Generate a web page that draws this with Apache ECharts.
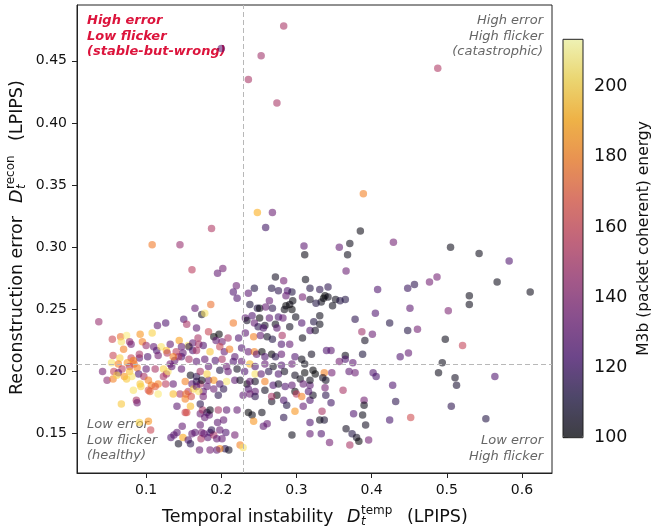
<!DOCTYPE html>
<html><head><meta charset="utf-8">
<script src="https://cdn.jsdelivr.net/npm/echarts@6/dist/echarts.min.js"></script>
<style>html,body{margin:0;padding:0;background:#fff}#c{width:652px;height:529px}</style>
</head><body><div id="c"></div>
<script>
// ---- tick values & ranges ----
const xTicks = [0.1, 0.2, 0.3, 0.4, 0.5, 0.6];
const yTicks = [0.15, 0.20, 0.25, 0.30, 0.35, 0.40, 0.45];
const cbTicks = [100, 120, 140, 160, 180, 200];
const xRange = [0.008, 0.640];
const yRange = [0.1184, 0.4949];
const energyRange = [100, 213.5];
const splitX = 0.229;
const splitY = 0.2056;

// ---- data: [D_temp, D_recon, M3b energy] ----
const highPts = [[0.200,0.460,128],[0.283,0.478,150],[0.253,0.454,148],[0.236,0.435,150],[0.274,0.416,150],[0.488,0.444,152],[0.248,0.328,192],[0.268,0.328,132],[0.259,0.316,120],[0.187,0.315,152],[0.108,0.302,178],[0.145,0.302,145],[0.310,0.301,128],[0.311,0.294,102],[0.389,0.343,180],[0.385,0.313,102],[0.357,0.300,130],[0.371,0.303,103],[0.368,0.294,103],[0.429,0.304,135],[0.505,0.300,103],[0.543,0.295,103],[0.583,0.289,125]];

const rightPts = [[0.366,0.281,132],[0.487,0.276,135],[0.477,0.272,135],[0.567,0.272,103],[0.611,0.264,103],[0.457,0.270,115],[0.448,0.267,118],[0.408,0.266,125],[0.530,0.261,103],[0.530,0.254,103],[0.451,0.251,128],[0.502,0.249,138],[0.405,0.247,125],[0.378,0.242,115],[0.424,0.239,112],[0.448,0.233,112],[0.461,0.234,135],[0.387,0.232,148],[0.401,0.230,132],[0.391,0.225,105],[0.498,0.226,103],[0.521,0.221,158],[0.388,0.214,110],[0.365,0.213,103],[0.438,0.212,125],[0.449,0.215,130],[0.346,0.217,128],[0.340,0.217,125],[0.357,0.208,135],[0.375,0.207,128],[0.494,0.207,103],[0.370,0.200,128],[0.378,0.199,132],[0.402,0.199,125],[0.406,0.196,122],[0.489,0.199,103],[0.511,0.195,105],[0.513,0.189,108],[0.564,0.196,125],[0.337,0.199,180],[0.347,0.199,135],[0.335,0.195,105],[0.339,0.193,105],[0.428,0.189,125],[0.362,0.185,150],[0.338,0.187,135],[0.339,0.181,115],[0.346,0.175,120],[0.390,0.177,135],[0.390,0.173,103],[0.432,0.176,115],[0.506,0.172,115],[0.376,0.166,125],[0.388,0.165,103],[0.452,0.163,162],[0.424,0.161,122],[0.552,0.162,112],[0.392,0.157,105],[0.366,0.154,105],[0.374,0.150,112],[0.380,0.147,105],[0.383,0.144,100],[0.396,0.145,135],[0.371,0.141,150],[0.344,0.143,135],[0.333,0.150,125],[0.331,0.161,103],[0.337,0.161,108],[0.334,0.168,150],[0.318,0.159,125],[0.318,0.150,130],[0.318,0.177,125],[0.322,0.181,105],[0.318,0.189,128],[0.320,0.214,105],[0.325,0.198,100],[0.365,0.210,125],[0.318,0.233,125],[0.325,0.233,105]];

const upperMidPts = [[0.331,0.266,115],[0.342,0.268,115],[0.318,0.267,112],[0.338,0.261,100],[0.336,0.259,100],[0.342,0.260,103],[0.333,0.256,103],[0.326,0.255,112],[0.348,0.253,103],[0.352,0.258,103],[0.358,0.257,112],[0.365,0.258,112],[0.318,0.258,105],[0.331,0.245,103],[0.323,0.240,112],[0.331,0.238,103],[0.202,0.283,135],[0.195,0.279,130],[0.272,0.276,105],[0.283,0.273,135],[0.312,0.274,103],[0.220,0.269,132],[0.244,0.267,112],[0.267,0.267,112],[0.276,0.265,115],[0.288,0.265,125],[0.294,0.264,112],[0.216,0.264,125],[0.236,0.263,128],[0.286,0.261,130],[0.221,0.259,125],[0.308,0.260,135],[0.264,0.257,130],[0.238,0.254,110],[0.295,0.257,102],[0.291,0.254,102],[0.286,0.253,100],[0.284,0.250,102],[0.248,0.251,112],[0.251,0.251,102],[0.259,0.252,130],[0.268,0.251,115],[0.294,0.250,100],[0.165,0.251,130],[0.174,0.246,105],[0.178,0.247,205],[0.186,0.254,175],[0.216,0.239,178],[0.232,0.243,128],[0.234,0.241,105],[0.241,0.245,125],[0.251,0.243,100],[0.264,0.243,128],[0.276,0.244,122],[0.282,0.243,130],[0.299,0.244,103],[0.307,0.239,125],[0.258,0.237,105],[0.272,0.238,103],[0.161,0.282,155],[0.150,0.242,125],[0.126,0.239,125],[0.115,0.237,128],[0.037,0.240,145],[0.154,0.238,150],[0.167,0.235,128]];

const leftPts = [[0.055,0.226,160],[0.066,0.228,175],[0.074,0.229,208],[0.067,0.224,205],[0.078,0.224,145],[0.080,0.222,135],[0.070,0.218,180],[0.092,0.230,185],[0.108,0.231,200],[0.095,0.224,180],[0.100,0.221,145],[0.110,0.220,130],[0.114,0.217,125],[0.120,0.220,205],[0.127,0.217,195],[0.132,0.222,130],[0.144,0.225,188],[0.140,0.216,155],[0.149,0.215,130],[0.156,0.221,205],[0.162,0.223,130],[0.162,0.217,125],[0.147,0.212,125],[0.056,0.213,160],[0.065,0.211,200],[0.054,0.207,205],[0.063,0.206,180],[0.080,0.211,160],[0.091,0.211,130],[0.091,0.214,150],[0.102,0.212,125],[0.083,0.209,180],[0.084,0.206,175],[0.075,0.207,185],[0.078,0.204,155],[0.068,0.202,155],[0.057,0.200,160],[0.063,0.199,130],[0.042,0.200,135],[0.048,0.193,142],[0.056,0.194,180],[0.061,0.197,200],[0.071,0.196,185],[0.074,0.194,198],[0.078,0.200,195],[0.088,0.203,180],[0.090,0.198,125],[0.100,0.202,130],[0.112,0.202,150],[0.123,0.202,200],[0.127,0.198,150],[0.123,0.196,150],[0.097,0.196,150],[0.103,0.193,180],[0.092,0.190,198],[0.107,0.189,180],[0.116,0.190,180],[0.129,0.200,205],[0.132,0.206,135],[0.138,0.209,130],[0.143,0.212,150],[0.116,0.213,135],[0.103,0.185,165],[0.105,0.184,172],[0.093,0.188,200],[0.083,0.185,205],[0.116,0.182,207],[0.112,0.188,170],[0.126,0.190,155],[0.087,0.177,150],[0.088,0.175,135],[0.067,0.174,198],[0.103,0.160,185],[0.106,0.153,160],[0.091,0.159,200],[0.081,0.196,205],[0.147,0.220,130],[0.157,0.220,115],[0.170,0.222,150],[0.128,0.215,155],[0.136,0.212,180],[0.157,0.210,150],[0.167,0.217,150],[0.134,0.204,128],[0.147,0.202,130],[0.159,0.197,103],[0.167,0.196,115],[0.152,0.192,180],[0.161,0.190,130],[0.172,0.190,150],[0.183,0.193,130],[0.136,0.190,130],[0.145,0.182,150],[0.156,0.184,155],[0.163,0.186,200],[0.176,0.184,130],[0.152,0.178,180],[0.136,0.182,195],[0.141,0.172,128],[0.152,0.167,160],[0.159,0.172,195]];

const lowerPts = [[0.133,0.147,125],[0.137,0.149,128],[0.141,0.151,128],[0.143,0.142,105],[0.148,0.156,130],[0.149,0.147,190],[0.156,0.145,125],[0.159,0.142,115],[0.161,0.150,130],[0.154,0.167,165],[0.153,0.182,175],[0.160,0.180,165],[0.172,0.157,130],[0.165,0.151,128],[0.174,0.151,135],[0.172,0.166,132],[0.175,0.169,150],[0.181,0.167,115],[0.184,0.165,130],[0.182,0.147,128],[0.173,0.146,150],[0.177,0.150,130],[0.185,0.137,135],[0.171,0.137,130],[0.185,0.151,125],[0.190,0.149,150],[0.198,0.153,130],[0.195,0.159,128],[0.201,0.146,130],[0.206,0.151,125],[0.205,0.138,115],[0.198,0.138,182],[0.210,0.137,105],[0.194,0.137,130],[0.225,0.141,180],[0.229,0.139,205],[0.218,0.149,135]];

const centerPts = [[0.244,0.239,130],[0.249,0.236,115],[0.256,0.235,125],[0.274,0.235,128],[0.281,0.229,150],[0.291,0.236,105],[0.183,0.232,160],[0.190,0.228,100],[0.197,0.230,100],[0.169,0.227,150],[0.193,0.225,130],[0.201,0.224,135],[0.209,0.227,150],[0.223,0.227,125],[0.232,0.231,128],[0.243,0.228,180],[0.252,0.229,130],[0.261,0.228,105],[0.268,0.226,112],[0.280,0.222,125],[0.291,0.222,130],[0.308,0.227,103],[0.176,0.221,125],[0.185,0.216,198],[0.198,0.220,160],[0.204,0.216,130],[0.211,0.218,180],[0.218,0.212,128],[0.227,0.219,125],[0.236,0.216,130],[0.244,0.216,180],[0.247,0.214,130],[0.254,0.216,100],[0.267,0.214,100],[0.272,0.212,115],[0.258,0.212,125],[0.280,0.214,130],[0.298,0.212,125],[0.307,0.210,103],[0.178,0.210,130],[0.192,0.209,125],[0.201,0.210,150],[0.167,0.208,128],[0.183,0.204,128],[0.207,0.204,132],[0.216,0.208,125],[0.227,0.208,130],[0.238,0.206,195],[0.245,0.204,125],[0.258,0.206,130],[0.269,0.204,103],[0.280,0.205,125],[0.294,0.206,130],[0.311,0.206,103],[0.322,0.201,100],[0.198,0.201,112],[0.209,0.200,130],[0.221,0.202,105],[0.231,0.200,125],[0.245,0.198,205],[0.253,0.198,128],[0.263,0.200,115],[0.276,0.198,125],[0.284,0.200,105],[0.298,0.197,105],[0.311,0.199,100],[0.172,0.200,150],[0.181,0.198,200],[0.207,0.192,207],[0.174,0.193,103],[0.167,0.192,115],[0.190,0.193,185],[0.198,0.190,125],[0.218,0.193,128],[0.225,0.193,105],[0.234,0.190,100],[0.238,0.192,130],[0.245,0.192,105],[0.258,0.192,180],[0.269,0.189,125],[0.276,0.190,105],[0.285,0.188,125],[0.294,0.189,128],[0.305,0.194,103],[0.309,0.190,130],[0.318,0.193,103],[0.167,0.188,128],[0.170,0.184,205],[0.181,0.188,130],[0.190,0.186,132],[0.203,0.186,115],[0.236,0.186,125],[0.245,0.184,128],[0.258,0.185,105],[0.298,0.184,100],[0.300,0.182,155],[0.307,0.180,180],[0.316,0.184,125],[0.176,0.180,135],[0.196,0.181,115],[0.229,0.181,128],[0.238,0.182,132],[0.245,0.180,115],[0.274,0.181,100],[0.283,0.177,125],[0.287,0.173,112],[0.298,0.168,185],[0.309,0.172,130],[0.172,0.174,115],[0.185,0.169,103],[0.196,0.169,150],[0.207,0.169,128],[0.221,0.169,130],[0.236,0.167,100],[0.241,0.165,103],[0.254,0.167,103],[0.267,0.176,105],[0.243,0.160,185],[0.256,0.156,128],[0.294,0.149,103],[0.178,0.163,130],[0.203,0.161,130],[0.187,0.153,115],[0.194,0.146,130],[0.267,0.180,150],[0.261,0.158,130],[0.283,0.163,115]];

// ---- styling ----
const FONT = 'DejaVu Sans';
const A = 0.7;
const infernoStops = [[0,0,4],[22,11,57],[66,10,104],[106,23,110],[147,38,103],[188,55,84],[221,81,58],[243,120,25],[252,165,10],[246,215,70],[252,255,164]];
const cmap = infernoStops.map(c => `rgba(${c[0]},${c[1]},${c[2]},${A})`);

const allPts = [].concat(highPts, rightPts, upperMidPts, leftPts, lowerPts, centerPts);

const txt = (x, y, text, extra) => ({type:'text', x, y, silent:true,
  style: Object.assign({text, fill:'#111', fontFamily:FONT, fontSize:17.5, align:'left', verticalAlign:'middle'}, extra||{})});

const chart = echarts.init(document.getElementById('c'), null, {renderer:'canvas'});
const option = {
  animation: false,
  backgroundColor: '#ffffff',
  grid: [
    {left:77, top:5, width:475, height:468, show:true, borderColor:'#222', borderWidth:1, backgroundColor:'transparent'},
    {left:563, top:39.3, width:20, height:398.4, show:true, borderColor:'#222', borderWidth:1, backgroundColor:'transparent', z:10}
  ],
  xAxis: [
    {type:'value', gridIndex:0, min:xRange[0], max:xRange[1],
     axisLine:{show:true, onZero:false, lineStyle:{color:'#222', width:1}},
     axisTick:{show:true, length:5, customValues:xTicks, lineStyle:{color:'#222'}},
     axisLabel:{customValues:xTicks, formatter:v=>(+v).toFixed(1), fontFamily:FONT, fontSize:14, color:'#111', margin:10},
     splitLine:{show:false}},
    {type:'value', gridIndex:1, show:false, min:0, max:1}
  ],
  yAxis: [
    {type:'value', gridIndex:0, min:yRange[0], max:yRange[1],
     axisLine:{show:true, onZero:false, lineStyle:{color:'#222', width:1}},
     axisTick:{show:true, length:5, customValues:yTicks, lineStyle:{color:'#222'}},
     axisLabel:{customValues:yTicks, formatter:v=>(+v).toFixed(2), fontFamily:FONT, fontSize:14, color:'#111', margin:10},
     splitLine:{show:false}},
    {type:'value', gridIndex:1, position:'right', min:energyRange[0], max:energyRange[1],
     axisLine:{show:false},
     axisTick:{show:true, length:5, customValues:cbTicks, lineStyle:{color:'#222'}},
     axisLabel:{customValues:cbTicks, fontFamily:FONT, fontSize:17.5, color:'#111', margin:11},
     splitLine:{show:false}}
  ],
  visualMap: {
    type:'continuous', min:energyRange[0], max:energyRange[1], dimension:2, seriesIndex:0,
    orient:'vertical', left:563, top:39.3, itemWidth:20, itemHeight:398.4, padding:0,
    calculable:false, hoverLink:false, inRange:{color:cmap}
  },
  series: [
    {type:'scatter', xAxisIndex:0, yAxisIndex:0, data:allPts, symbolSize:7.5, silent:true, z:3,
     itemStyle:{borderWidth:0}},
    {type:'line', xAxisIndex:0, yAxisIndex:0, data:[], z:1, silent:true,
     markLine:{silent:true, precision:6, symbol:['none','none'], label:{show:false},
       lineStyle:{color:'#b8b8b8', type:[5,3], width:1},
       data:[{xAxis:splitX},{yAxis:splitY}]}}
  ],
  graphic: [
    txt(87, 13, 'High error\nLow flicker\n(stable-but-wrong)', {fill:'#dc143c', fontSize:13, fontStyle:'italic', fontWeight:'bold', lineHeight:15.5, verticalAlign:'top'}),
    txt(543, 13, 'High error\nHigh flicker\n(catastrophic)', {fill:'#666', fontSize:13, fontStyle:'italic', lineHeight:15.5, align:'right', verticalAlign:'top'}),
    txt(87, 417, 'Low error\nLow flicker\n(healthy)', {fill:'#666', fontSize:13, fontStyle:'italic', lineHeight:15.5, verticalAlign:'top'}),
    txt(543, 433, 'Low error\nHigh flicker', {fill:'#666', fontSize:13, fontStyle:'italic', lineHeight:15.5, align:'right', verticalAlign:'top'}),
    {type:'group', x:162, y:517.5, silent:true, children:[
      txt(0, 0, 'Temporal instability'),
      txt(185, 0, 'D', {fontStyle:'italic'}),
      txt(199, -6.5, 'temp', {fontSize:12}),
      txt(199, 4.5, 't', {fontSize:12, fontStyle:'italic'}),
      txt(245, 0, '(LPIPS)')
    ]},
    {type:'group', x:17, y:395, rotation:Math.PI/2, silent:true, children:[
      txt(0, 0, 'Reconstruction error'),
      txt(192, 0, 'D', {fontStyle:'italic'}),
      txt(206, -6.5, 'recon', {fontSize:12}),
      txt(206, 4.5, 't', {fontSize:12, fontStyle:'italic'}),
      txt(254, 0, '(LPIPS)')
    ]},
    {type:'text', x:644, y:238.5, rotation:Math.PI/2, silent:true,
     style:{text:'M3b (packet coherent) energy', fill:'#111', fontFamily:FONT, fontSize:15.5, align:'center', verticalAlign:'middle'}}
  ]
};
chart.setOption(option);
</script>
</body></html>
